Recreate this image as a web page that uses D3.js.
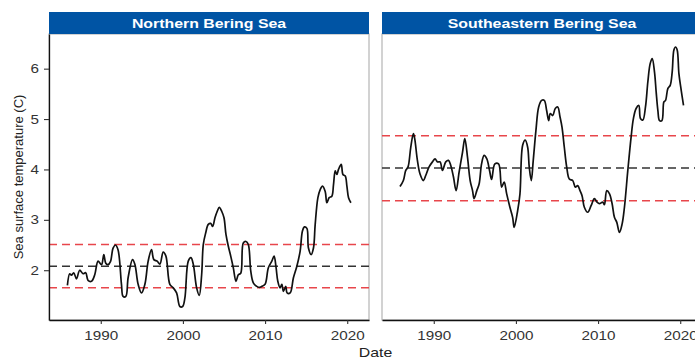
<!DOCTYPE html>
<html>
<head>
<meta charset="utf-8">
<script src="https://cdn.jsdelivr.net/npm/d3@7"></script>
<style>
  html, body { margin: 0; padding: 0; background: #fff; }
  svg { display: block; font-family: "Liberation Sans", Arial, sans-serif; }
</style>
</head>
<body>
<svg id="chart" width="695" height="358"></svg>
<script>
// Regions (facet titles)
const regions = ["Northern Bering Sea", "Southeastern Bering Sea"];

// Northern Bering Sea: smoothed SST (decimal year, degrees C)
const nbsYears = [1985.94,1986.22,1986.43,1986.71,1987.04,1987.44,1987.84,1988.17,1988.45,1988.87,1989.27,1989.67,1990.09,1990.37,1990.61,1990.89,1991.18,1991.50,1991.79,1992.11,1992.52,1992.72,1993.05,1993.33,1993.87,1994.15,1994.55,1994.96,1995.37,1995.77,1996.18,1996.46,1996.87,1997.20,1997.60,1997.93,1998.41,1998.82,1999.23,1999.63,1999.96,2000.24,2000.65,2000.98,2001.26,2001.67,2001.99,2002.28,2002.48,2002.77,2003.09,2003.38,2003.62,2003.90,2004.18,2004.43,2004.72,2005.00,2005.24,2005.52,2005.82,2006.13,2006.46,2006.74,2007.04,2007.35,2007.68,2007.96,2008.26,2008.57,2008.99,2009.30,2009.60,2010.00,2010.40,2010.82,2011.10,2011.34,2011.55,2011.83,2012.04,2012.23,2012.52,2012.68,2013.05,2013.45,2013.87,2014.27,2014.55,2014.79,2015.09,2015.28,2015.61,2015.89,2016.10,2016.43,2016.71,2016.99,2017.32,2017.52,2017.80,2018.13,2018.33,2018.54,2018.74,2018.94,2019.27,2019.48,2019.76,2019.96,2020.16,2020.45];
const nbsSst = [1.70,1.93,1.90,1.95,1.83,2.00,1.93,1.95,1.80,1.78,1.91,2.18,2.11,2.31,2.14,2.11,2.17,2.44,2.50,2.40,1.72,1.48,1.48,1.85,2.21,2.12,1.72,1.55,1.72,2.18,2.41,2.21,2.18,2.12,2.36,2.28,1.72,1.65,1.55,1.28,1.28,1.45,2.18,2.25,2.12,1.65,1.50,1.91,2.51,2.74,2.91,2.93,2.87,3.04,3.17,3.25,3.17,3.04,2.71,2.48,2.28,2.05,1.78,1.91,1.94,2.54,2.57,2.51,1.98,1.75,1.68,1.66,1.68,1.72,2.05,2.18,2.28,2.05,1.78,1.65,1.72,1.58,1.68,1.55,1.55,1.85,2.08,2.38,2.78,2.86,2.83,2.44,2.31,2.44,2.91,3.44,3.60,3.67,3.56,3.34,3.44,3.47,3.70,3.97,3.90,4.00,4.10,3.90,3.87,3.67,3.44,3.34];

// Southeastern Bering Sea: smoothed SST (decimal year, degrees C)
const sebsYears = [1985.89,1986.30,1986.59,1986.87,1987.20,1987.52,1987.68,1988.01,1988.33,1988.74,1989.02,1989.43,1989.84,1990.16,1990.45,1990.77,1991.06,1991.46,1991.79,1992.07,1992.40,1992.72,1993.09,1993.50,1993.78,1994.11,1994.43,1994.72,1994.91,1995.24,1995.52,1995.82,1996.13,1996.46,1996.79,1997.04,1997.44,1997.89,1998.26,1998.57,1998.87,1999.27,1999.60,1999.79,2000.21,2000.49,2000.82,2001.13,2001.43,2001.62,2001.87,2002.11,2002.44,2002.77,2003.13,2003.45,2003.74,2003.99,2004.18,2004.48,2004.79,2005.09,2005.37,2005.61,2005.89,2006.18,2006.50,2006.91,2007.23,2007.52,2007.80,2008.05,2008.33,2008.74,2009.15,2009.55,2009.88,2010.16,2010.57,2010.77,2011.06,2011.38,2011.71,2011.99,2012.28,2012.60,2012.93,2013.21,2013.62,2014.02,2014.30,2014.63,2014.96,2015.16,2015.45,2015.77,2016.06,2016.34,2016.59,2016.87,2017.07,2017.28,2017.48,2017.77,2018.01,2018.21,2018.50,2018.78,2019.02,2019.23,2019.43,2019.63,2019.84,2020.12,2020.40];
const sebsSst = [3.66,3.78,3.98,4.05,4.44,4.71,4.61,4.18,3.91,3.78,3.88,4.05,4.15,4.21,4.15,4.15,3.98,4.15,4.18,4.08,3.85,3.58,3.95,4.34,4.61,4.24,3.78,3.58,3.42,3.58,3.71,4.11,4.28,4.21,3.98,3.80,4.11,4.11,3.65,3.75,3.52,3.25,3.05,2.85,3.18,3.51,4.48,4.58,4.44,4.05,3.78,4.18,4.78,5.24,5.37,5.37,5.17,4.97,5.11,5.07,5.21,5.24,5.04,4.84,4.44,4.05,3.81,3.78,3.65,3.68,3.58,3.48,3.25,3.15,3.28,3.42,3.35,3.32,3.35,3.30,3.58,3.52,3.32,3.05,2.95,2.75,2.92,3.25,3.98,4.64,5.01,5.21,5.27,5.01,4.98,5.24,5.74,6.10,6.20,5.93,5.54,5.17,4.97,4.97,5.34,5.37,5.61,5.67,5.93,6.37,6.43,6.37,5.90,5.57,5.27];

// Long-term mean and mean +/- 1 SD for each region
const baselineMean = [2.08, 4.03];
const baselineUpper = [2.51, 4.67];
const baselineLower = [1.65, 3.38];

// Axis ticks
const xTicks = [1990, 2000, 2010, 2020];
const yTicks = [2, 3, 4, 5, 6];

const series = [
  { years: nbsYears, values: nbsSst },
  { years: sebsYears, values: sebsSst }
];

const svg = d3.select("#chart");
const panelW = 320, plotTop = 34, plotBottom = 320, stripH = 22;
const panelX = [49, 382];
const wide = 1.22; // horizontal text widening

const x = d3.scaleLinear().domain([1983.7, 2022.65]).range([0, panelW]);
const y = d3.scaleLinear().domain([1.012, 6.688]).range([plotBottom, plotTop]);

const red = "#e8464b";
const headerBlue = "#0054a4";

regions.forEach((name, i) => {
  const g = svg.append("g").attr("transform", `translate(${panelX[i]},0)`);

  // panel border (light grey)
  g.append("rect")
    .attr("x", 0).attr("y", plotTop).attr("width", panelW).attr("height", plotBottom - plotTop)
    .attr("fill", "#fff").attr("stroke", "#b5b5b5").attr("stroke-width", 1.2);

  // facet strip
  g.append("rect")
    .attr("x", 0).attr("y", plotTop - stripH).attr("width", panelW).attr("height", stripH)
    .attr("fill", headerBlue);
  g.append("text")
    .attr("transform", `translate(${panelW / 2},${plotTop - stripH / 2 + 0.5}) scale(${wide},1)`)
    .attr("text-anchor", "middle").attr("dominant-baseline", "central")
    .attr("fill", "#fff").attr("font-weight", "bold").attr("font-size", 13)
    .text(name);

  // reference lines
  const hline = (v, color) => g.append("line")
    .attr("x1", 0).attr("x2", panelW)
    .attr("y1", y(v)).attr("y2", y(v))
    .attr("stroke", color).attr("stroke-width", 1.5)
    .attr("stroke-dasharray", "8,5");
  hline(baselineUpper[i], red);
  hline(baselineMean[i], "#333");
  hline(baselineLower[i], red);

  // SST series
  const pts = series[i].years.map((yr, k) => [yr, series[i].values[k]]);
  g.append("path")
    .datum(pts)
    .attr("fill", "none").attr("stroke", "#111").attr("stroke-width", 1.7)
    .attr("stroke-linejoin", "round")
    .attr("d", d3.line().x(d => x(d[0])).y(d => y(d[1])).curve(d3.curveCatmullRom.alpha(0.5)));

  // x axis
  const xAxis = g.append("g").attr("transform", `translate(0,${plotBottom})`)
    .call(d3.axisBottom(x).tickValues(xTicks).tickFormat(d3.format("d"))
      .tickSizeInner(4).tickSizeOuter(0).tickPadding(3));
  xAxis.select(".domain").attr("stroke", "#111").attr("stroke-width", 1.3);
  xAxis.selectAll(".tick line").attr("stroke", "#333").attr("stroke-width", 1.1);
  xAxis.selectAll(".tick text")
    .attr("font-size", 12.5).attr("fill", "#333").attr("dy", "1.04em")
    .attr("transform", `scale(${wide},1)`)
    .style("font-family", "Liberation Sans, Arial, sans-serif");

  if (i === 0) {
    const yAxis = g.append("g")
      .call(d3.axisLeft(y).tickValues(yTicks).tickFormat(d3.format("d"))
        .tickSizeInner(5).tickSizeOuter(0).tickPadding(5));
    yAxis.select(".domain").attr("stroke", "#111").attr("stroke-width", 1.3);
    yAxis.selectAll(".tick line").attr("stroke", "#333").attr("stroke-width", 1.1);
    yAxis.selectAll(".tick text")
      .attr("font-size", 12.5).attr("fill", "#333")
      .attr("x", -10 / wide)
      .attr("transform", `scale(${wide},1)`)
      .style("font-family", "Liberation Sans, Arial, sans-serif");
  }
});

// axis titles
svg.append("text")
  .attr("transform", `translate(18,${(plotTop + plotBottom) / 2}) rotate(-90)`)
  .attr("text-anchor", "middle").attr("dominant-baseline", "central")
  .attr("font-size", 13).attr("fill", "#222")
  .text("Sea surface temperature (C)");
svg.append("text")
  .attr("transform", `translate(${(panelX[0] + panelX[1] + panelW) / 2},357) scale(${wide},1)`)
  .attr("text-anchor", "middle")
  .attr("font-size", 13).attr("fill", "#222")
  .text("Date");
</script>
</body>
</html>
